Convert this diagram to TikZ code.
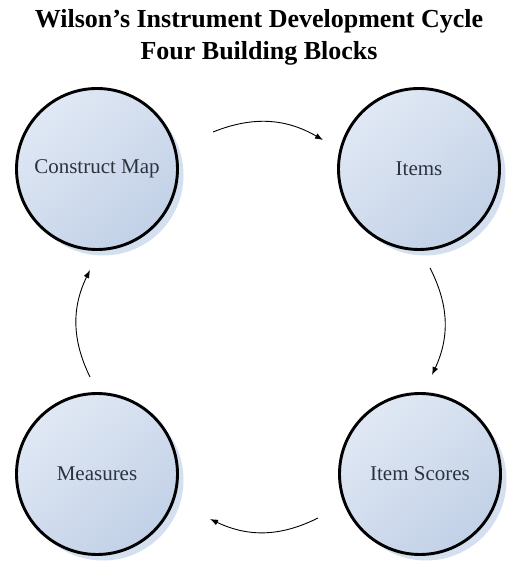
\documentclass[tikz,border=0pt]{standalone}
\usepackage{fontspec}
\setmainfont{Liberation Serif}
\usetikzlibrary{shadows,arrows.meta}

\definecolor{blocktop}{RGB}{224,232,244}
\definecolor{blockbot}{RGB}{194,209,231}
\definecolor{blockshadow}{RGB}{212,223,240}
\definecolor{blocktext}{RGB}{44,50,62}

\begin{document}
\begin{tikzpicture}[x=1pt,y=1pt,
  block/.style={circle,draw,line width=2.9pt,minimum size=161pt,
    top color=blocktop,bottom color=blockbot,shading angle=40,
    drop shadow={shadow xshift=6pt,shadow yshift=-6pt,fill=blockshadow,opacity=1},
    text=blocktext,font=\fontsize{21}{25}\selectfont},
  cyc/.style={-{Latex[length=8pt,width=6pt]},line width=0.9pt,bend left=26}]
\useasboundingbox (0,0) rectangle (509,569);

% Heading
\node[font=\bfseries\fontsize{26}{32}\selectfont,align=center] (title) at (259,532)
  {Wilson’s Instrument Development Cycle\\Four Building Blocks};

% The four building blocks
\node[block] (cm) at (97,400) {Construct Map};
\node[block] (it) at (419,400) {Items};
\node[block] (is) at (420,95) {Item Scores};
\node[block] (ms) at (97,95) {Measures};

% Cycle arrows (clockwise)
\draw[cyc] ([shift={(116,37)}]cm.center) to ([shift={(-96,29)}]it.center);
\draw[cyc] ([shift={(11,-99)}]it.center) to ([shift={(12,99)}]is.center);
\draw[cyc] ([shift={(-102,-44)}]is.center) to ([shift={(113,-45)}]ms.center);
\draw[cyc] ([shift={(-7,97)}]ms.center) to ([shift={(-7,-101)}]cm.center);
\end{tikzpicture}
\end{document}
